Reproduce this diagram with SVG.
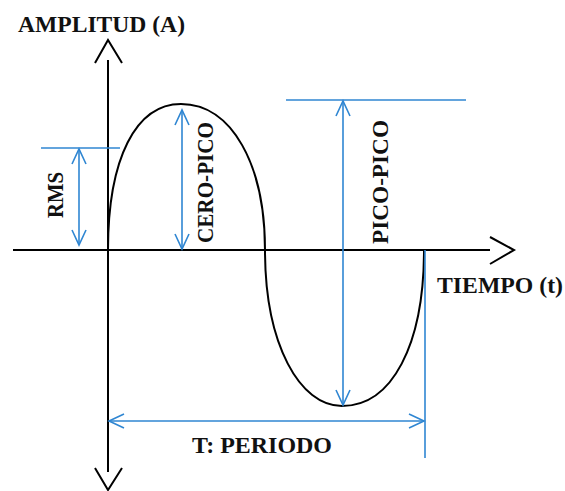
<svg xmlns="http://www.w3.org/2000/svg" width="565" height="491" viewBox="0 0 565 491">
<style>
.ax{fill:none;stroke:#000;stroke-width:2}
.bl{fill:none;stroke:#2f86d2;stroke-width:1.6}
.t{font-family:"Liberation Serif","Times New Roman",serif;font-weight:bold;font-size:23.5px;fill:#111}
</style>
<defs>
<marker id="ah" viewBox="-16 -8 18 16" refX="0" refY="0" markerWidth="18" markerHeight="16" markerUnits="userSpaceOnUse" orient="auto-start-reverse">
<path d="M-15,-7 L0,0 L-15,7" fill="none" stroke="#2f86d2" stroke-width="1.6"/>
</marker>
</defs>
<rect width="565" height="491" fill="#fff"/>
<g id="axes">
<line class="ax" x1="108" y1="60" x2="108" y2="472"/>
<polyline class="ax" points="95,63 108,40 122,63"/>
<polyline class="ax" points="95,468 108,490 122,468"/>
<line class="ax" x1="13" y1="250" x2="490" y2="250"/>
<polyline class="ax" points="490,237 514,250 490,264"/>
</g>
<g id="wave">
<path class="ax" d="M108,250 C108,158 136,104 181,104 C232,104 265,165 265,250 C265,345 300,406 342,406 C392,406 424,345 424,250"/>
</g>
<g id="connectors">
<line class="bl" x1="41" y1="148" x2="120" y2="148"/>
<line class="bl" x1="79" y1="149" x2="79" y2="245" marker-start="url(#ah)" marker-end="url(#ah)"/>
<line class="bl" x1="182" y1="110" x2="182" y2="249" marker-start="url(#ah)" marker-end="url(#ah)"/>
<line class="bl" x1="286" y1="100" x2="466" y2="100"/>
<line class="bl" x1="343" y1="101" x2="343" y2="405" marker-start="url(#ah)" marker-end="url(#ah)"/>
<line class="bl" x1="425" y1="250" x2="425" y2="458"/>
<line class="bl" x1="109" y1="421" x2="424" y2="421" marker-start="url(#ah)" marker-end="url(#ah)"/>
</g>
<g id="labels">
<text class="t" x="18" y="32" textLength="167" lengthAdjust="spacingAndGlyphs">AMPLITUD (A)</text>
<text class="t" x="437" y="293" textLength="126" lengthAdjust="spacingAndGlyphs">TIEMPO (t)</text>
<text class="t" x="192" y="453" textLength="140" lengthAdjust="spacingAndGlyphs">T: PERIODO</text>
<text class="t" transform="translate(63,218) rotate(-90)" textLength="46" lengthAdjust="spacingAndGlyphs">RMS</text>
<text class="t" transform="translate(213,243) rotate(-90)" textLength="121" lengthAdjust="spacingAndGlyphs">CERO-PICO</text>
<text class="t" transform="translate(388,244) rotate(-90)" textLength="124" lengthAdjust="spacingAndGlyphs">PICO-PICO</text>
</g>
</svg>
